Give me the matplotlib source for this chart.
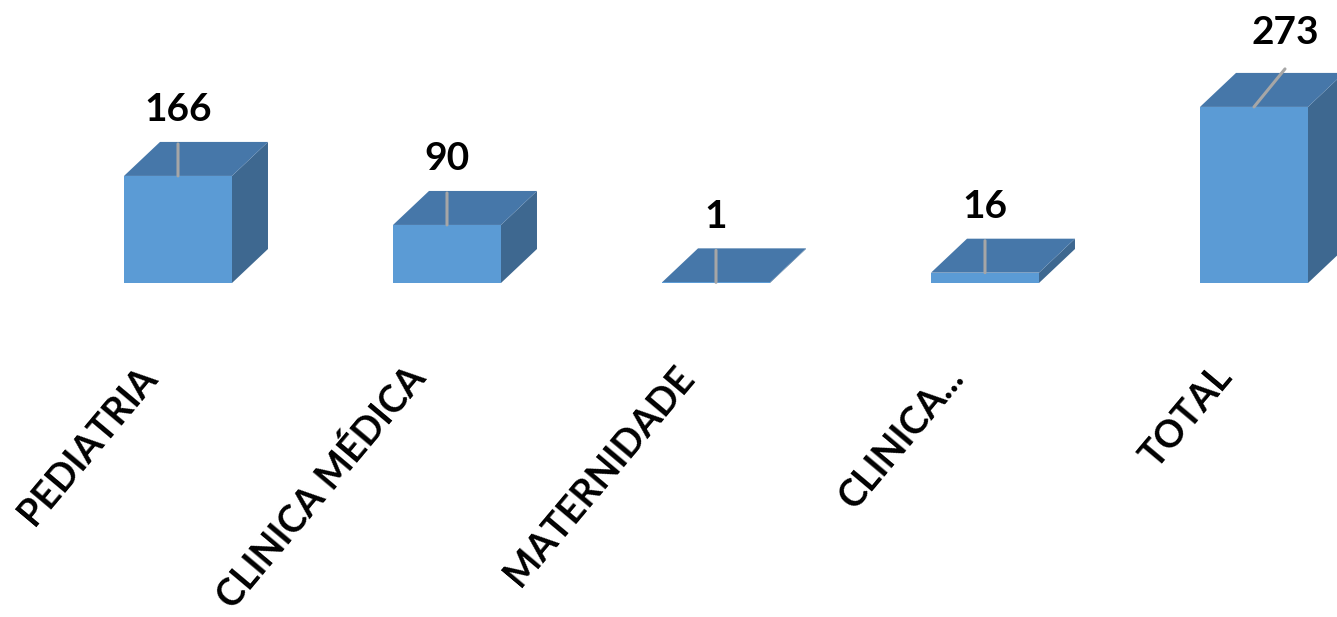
import matplotlib.pyplot as plt
from matplotlib.patches import Polygon

categorias = ["PEDIATRIA", "CLINICA MÉDICA", "MATERNIDADE", "CLINICA...", "TOTAL"]
valores = [166, 90, 1, 16, 273]

cor_frente = "#5B9BD5"
cor_topo = "#4677A9"
cor_lado = "#3E6890"

fonte = ["Lato", "DejaVu Sans"]

fig = plt.figure(figsize=(13.37, 6.17), dpi=100)
ax = fig.add_axes([0, 0, 1, 1])
ax.set_xlim(-178 / 269, (1337 - 178) / 269)
ax.set_ylim(-(617 - 283) / 0.645, 283 / 0.645)
ax.axis("off")

meia = 0.2007      # meia largura da face frontal
dx = 36 / 269      # profundidade em x
dy = 34 / 0.645    # profundidade em y

for i, v in enumerate(valores):
    x0, x1 = i - meia, i + meia
    frente = [(x0, 0), (x1, 0), (x1, v), (x0, v)]
    topo = [(x0, v), (x1, v), (x1 + dx, v + dy), (x0 + dx, v + dy)]
    lado = [(x1, 0), (x1 + dx, dy), (x1 + dx, v + dy), (x1, v)]
    ax.add_patch(Polygon(lado, closed=True, facecolor=cor_lado, edgecolor="none"))
    ax.add_patch(Polygon(topo, closed=True, facecolor=cor_topo, edgecolor="none"))
    ax.add_patch(Polygon(frente, closed=True, facecolor=cor_frente, edgecolor="none"))

    # rótulo do valor com linha guia
    if i == len(valores) - 1:
        desloc = (31, 74)
        fim = (31, 38)
    else:
        desloc = (0, 66)
        fim = (0, 32)
    ax.annotate("", xy=(i, v), xytext=fim, textcoords="offset pixels",
                arrowprops=dict(arrowstyle="-", color="#A6A6A6", lw=2.2,
                                shrinkA=0, shrinkB=0))
    ax.annotate(str(v), xy=(i, v), xytext=desloc, textcoords="offset pixels",
                ha="center", va="center", fontsize=28, fontweight="bold",
                family=fonte, color="black")

    # nome da categoria
    ax.annotate(categorias[i], xy=(i, 0), xytext=(-28, -88), textcoords="offset pixels",
                ha="right", va="center", rotation=50, rotation_mode="anchor",
                fontsize=27, fontweight="bold", family=fonte, color="black")

fig.savefig("out.png", dpi=100)
